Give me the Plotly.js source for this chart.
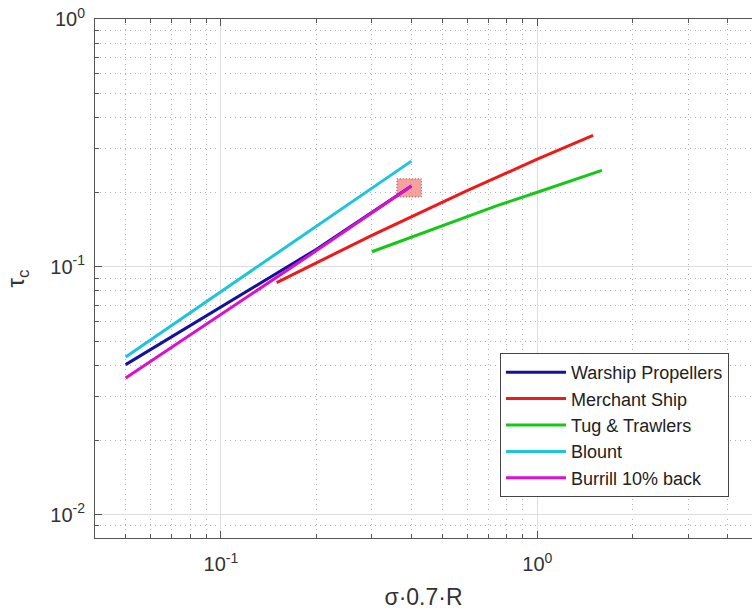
<!DOCTYPE html>
<html>
<head>
<meta charset="utf-8">
<script src="https://cdn.plot.ly/plotly-3.0.1.min.js"></script>
<style>html,body{margin:0;padding:0;background:#fff;}#chart{width:752px;height:612px;}</style>
</head>
<body>
<div id="chart"></div>
<script>
// ---- data ----
const warshipX  = [0.05, 0.1, 0.2, 0.4];
const warshipY  = [0.0403, 0.0690, 0.1175, 0.212];
const merchantX = [0.15, 0.3, 0.6, 1.0, 1.5];
const merchantY = [0.0864, 0.134, 0.203, 0.272, 0.339];
const tugX      = [0.3, 0.5, 0.75, 1.0, 1.6];
const tugY      = [0.115, 0.146, 0.177, 0.200, 0.245];
const blountX   = [0.05, 0.4];
const blountY   = [0.0433, 0.267];
const burrillX  = [0.05, 0.1, 0.2, 0.4];
const burrillY  = [0.0356, 0.0640, 0.1160, 0.212];
const regionX   = [0.36, 0.43];
const regionY   = [0.1915, 0.2265];
const seriesNames = ["Warship Propellers", "Merchant Ship", "Tug & Trawlers", "Blount", "Burrill 10% back"];
const xTickVals = [0.1, 1];
const xTickText = ["10<sup>-1</sup>", "10<sup>0</sup>"];
const yTickVals = [0.01, 0.1, 1];
const yTickText = ["10<sup>-2</sup>", "10<sup>-1</sup>", "10<sup>0</sup>"];

const FONT = "Liberation Sans, Arial, Helvetica, sans-serif";
const colors = ["#12129c", "#ee1a1a", "#16c816", "#1ec4dc", "#dc10cc"];

const region = {
  x: [regionX[0], regionX[1], regionX[1], regionX[0], regionX[0]],
  y: [regionY[0], regionY[0], regionY[1], regionY[1], regionY[0]],
  mode: "lines", fill: "toself", fillcolor: "rgba(244,130,125,0.75)",
  line: {color: "#8a4a4a", width: 1, dash: "1px,2px"},
  showlegend: false, hoverinfo: "skip"
};

const xs = [warshipX, merchantX, tugX, blountX, burrillX];
const ys = [warshipY, merchantY, tugY, blountY, burrillY];
const traces = [region];
for (let i = 0; i < 5; i++) {
  traces.push({
    x: xs[i], y: ys[i], name: seriesNames[i], mode: "lines",
    line: {color: colors[i], width: 3},
    legendgroup: "g" + i
  });
}

const axisCommon = {
  type: "log",
  showline: true, linecolor: "#555", linewidth: 1,
  ticks: "inside", ticklen: 7, tickcolor: "#555",
  showgrid: true, gridcolor: "#dedede", gridwidth: 1,
  zeroline: false,
  tickfont: {family: FONT, size: 20, color: "#333"},
  minor: {dtick: "D1", showgrid: true, gridcolor: "#b0b0b0", griddash: "1px,4px", gridwidth: 1,
          ticks: "inside", ticklen: 4, tickcolor: "#555"}
};

const layout = {
  width: 752, height: 612,
  paper_bgcolor: "#fff", plot_bgcolor: "#fff",
  margin: {l: 95, r: 0, t: 19, b: 74},
  font: {family: FONT, color: "#333"},
  xaxis: Object.assign({}, axisCommon, {
    range: [Math.log10(0.04), Math.log10(4.77)],
    tickmode: "array", tickvals: xTickVals, ticktext: xTickText,
    mirror: "ticks", ticklabelstandoff: 8,
    title: {text: "σ·0.7·R", font: {family: FONT, size: 23, color: "#333"}, standoff: 14}
  }),
  yaxis: Object.assign({}, axisCommon, {
    range: [Math.log10(0.00805), 0],
    tickmode: "array", tickvals: yTickVals, ticktext: yTickText,
    mirror: false, ticklabelstandoff: 5,
    title: {text: "τ<sub>c</sub>", font: {family: FONT, size: 24, color: "#333"}, standoff: 18}
  }),
  legend: {
    x: 0.6164, y: 0.079, xanchor: "left", yanchor: "bottom",
    bgcolor: "#fff", bordercolor: "#444", borderwidth: 1,
    font: {family: FONT, size: 18, color: "#222"},
    tracegroupgap: 0, traceorder: "grouped", itemwidth: 60
  },
  showlegend: true
};

Plotly.newPlot("chart", traces, layout, {staticPlot: true, displayModeBar: false});
</script>
</body>
</html>
